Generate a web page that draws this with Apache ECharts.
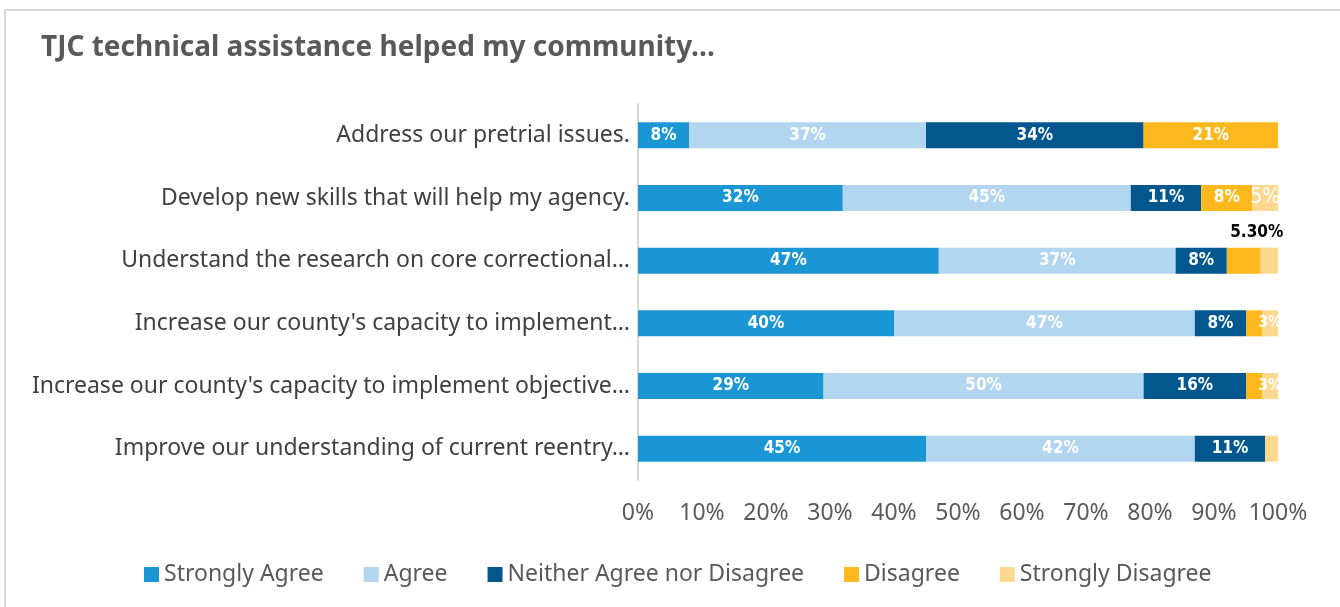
<!DOCTYPE html>
<html>
<head>
<meta charset="utf-8">
<script src="https://cdn.jsdelivr.net/npm/echarts@6/dist/echarts.min.js"></script>
<style>
html,body{margin:0;padding:0;background:#fff;}
#frame{position:absolute;left:4px;top:9px;width:1340px;height:600px;border-left:2px solid #d9d9d9;border-top:2px solid #d9d9d9;box-sizing:border-box;}
#chart{position:absolute;left:0;top:0;width:1340px;height:607px;}
</style>
</head>
<body>
<div id="frame"></div>
<div id="chart"></div>
<script>
const titleText = 'TJC technical assistance helped my community…';
const categories = [
  'Address our pretrial issues.',
  'Develop new skills that will help my agency.',
  'Understand the research on core correctional…',
  "Increase our county's capacity to implement…",
  "Increase our county's capacity to implement objective…",
  'Improve our understanding of current reentry…'
];
const seriesNames = ['Strongly Agree','Agree','Neither Agree nor Disagree','Disagree','Strongly Disagree'];
const stronglyAgree    = [8, 32, 47, 40, 29, 45];
const agree            = [37, 45, 37, 47, 50, 42];
const neither          = [34, 11, 8, 8, 16, 11];
const disagree         = [21, 8, 5.3, 2.5, 2.5, 0];
const stronglyDisagree = [0, 5, 2.7, 2.5, 2.5, 2];
const labelsStronglyAgree    = ['8%','32%','47%','40%','29%','45%'];
const labelsAgree            = ['37%','45%','37%','47%','50%','42%'];
const labelsNeither          = ['34%','11%','8%','8%','16%','11%'];
const labelsDisagree         = ['21%','8%','5.30%','','',''];
const labelsStronglyDisagree = ['','5%','','3%','3%',''];
const xTicks = [0,10,20,30,40,50,60,70,80,90,100];

const colors = ['#1a96d4','#b2d5f0','#02578e','#fdb81e','#fed88f'];
const values = [stronglyAgree, agree, neither, disagree, stronglyDisagree];
const labels = [labelsStronglyAgree, labelsAgree, labelsNeither, labelsDisagree, labelsStronglyDisagree];

const labelFont = "'DejaVu Sans Condensed', sans-serif";
const chart = echarts.init(document.getElementById('chart'));

const series = seriesNames.map((name, si) => ({
  name: name,
  type: 'bar',
  stack: 'total',
  barWidth: 26,
  itemStyle: {color: colors[si]},
  label: {
    show: true,
    position: 'inside',
    color: '#fff',
    fontFamily: labelFont,
    fontWeight: 'bold',
    fontSize: 17,
    formatter: p => labels[si][p.dataIndex]
  },
  emphasis: {disabled: true},
  data: values[si].map((v, i) => {
    const item = {value: v};
    if (labels[si][i] === '5.30%') {
      item.label = {position: 'top', color: '#000', fontSize: 17, offset: [13, -2]};
    }
    if (si === 4) {
      item.label = {fontWeight: 'normal', fontSize: 21};
      if (labels[si][i] === '3%') item.label = {fontSize: 15};
    }
    return item;
  })
}));

chart.setOption({
  animation: false,
  title: {
    text: titleText,
    left: 36, top: 29,
    textStyle: {fontFamily: 'Noto Sans', fontWeight: 'bold', fontSize: 28, color: '#595959'}
  },
  legend: {
    data: seriesNames,
    top: 558,
    left: 139,
    icon: 'rect',
    itemWidth: 15,
    itemHeight: 15,
    itemGap: 40,
    textStyle: {fontFamily: 'Noto Sans', fontSize: 23, color: '#595959'}
  },
  grid: {left: 638, right: 62, top: 104, bottom: 127, containLabel: false},
  xAxis: {
    type: 'value',
    min: 0, max: 100, interval: 10,
    axisLine: {show: false},
    axisTick: {show: false},
    splitLine: {show: false},
    axisLabel: {
      formatter: v => xTicks.includes(v) ? v + '%' : '',
      fontFamily: 'Noto Sans', fontSize: 23, color: '#595959', margin: 22
    }
  },
  yAxis: {
    type: 'category',
    inverse: true,
    data: categories,
    axisLine: {show: true, lineStyle: {color: '#d9d9d9', width: 2}},
    axisTick: {show: false},
    axisLabel: {fontFamily: 'Noto Sans', fontSize: 23, color: '#404040', margin: 8}
  },
  series: series
});
</script>
</body>
</html>
